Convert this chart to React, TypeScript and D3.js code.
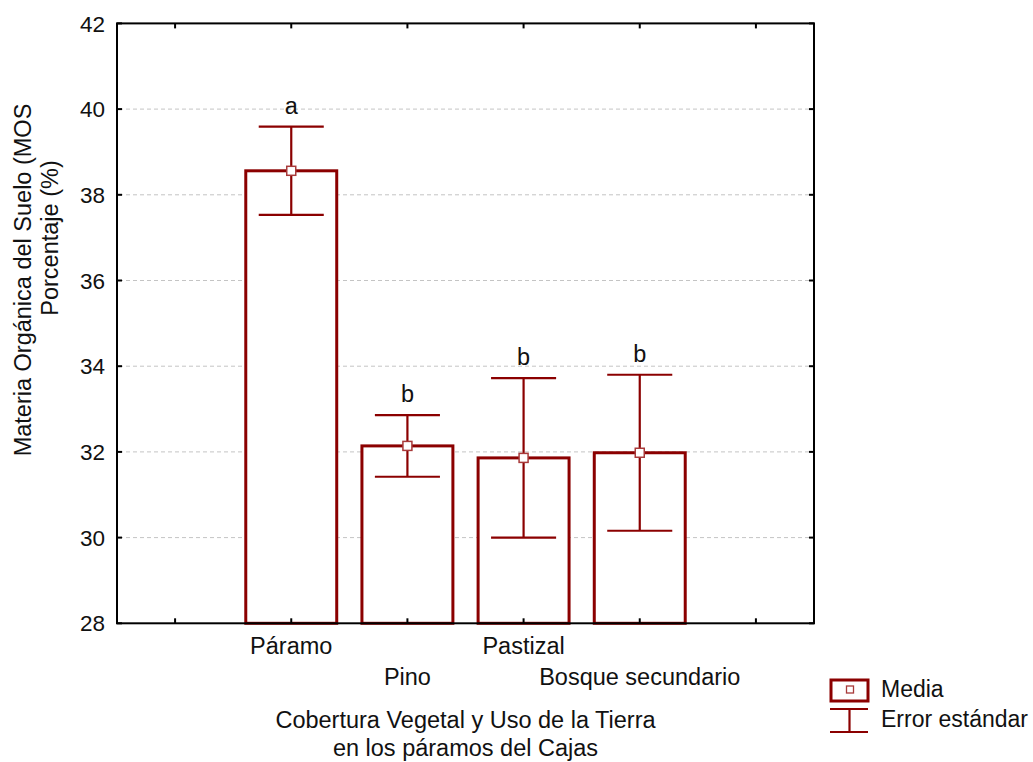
import React from "react";
import * as d3 from "d3";

const categories = ["Páramo", "Pino", "Pastizal", "Bosque secundario"];
const means = [38.56, 32.14, 31.86, 31.98];
const stdErrors = [1.03, 0.72, 1.86, 1.82];
const groupLetters = ["a", "b", "b", "b"];
const yTicks = [28, 30, 32, 34, 36, 38, 40, 42];
const gridValues = [30, 32, 34, 36, 38, 40];
const slots = ["_start", ...categories, "_end"];

const W = 1033;
const H = 762;
const left = 117;
const right = 814;
const top = 23.4;
const bottom = 623.3;
const RED = "#8B0000";
const FONT = "'Liberation Sans', Arial, sans-serif";
const FS = 23.5;

export default function App() {
  const x = d3.scalePoint<string>().domain(slots).range([left, right]).padding(0.5);
  const y = d3.scaleLinear().domain([28, 42]).range([bottom, top]);
  const step = x.step();
  const barW = step * 0.783;
  const capW = step * 0.56;

  return (
    <svg width={W} height={H} style={{ position: "absolute", left: 0, top: 0 }} fontFamily={FONT}>
      <rect x={0} y={0} width={W} height={H} fill="#fff" />
      {gridValues.map((v) => (
        <line key={"g" + v} x1={left + 2} x2={right - 2} y1={y(v)} y2={y(v)} stroke="#c4c4c4" strokeWidth={1} strokeDasharray="4,3" />
      ))}
      {categories.map((c, i) => {
        const cx = x(c)!;
        return (
          <rect key={"b" + c} x={cx - barW / 2} y={y(means[i])} width={barW} height={bottom - y(means[i])} fill="#fff" stroke={RED} strokeWidth={3} />
        );
      })}
      {categories.map((c, i) => {
        const cx = x(c)!;
        const hi = y(means[i] + stdErrors[i]);
        const lo = y(means[i] - stdErrors[i]);
        return (
          <g key={"e" + c} stroke={RED} strokeWidth={2.2}>
            <line x1={cx} x2={cx} y1={hi} y2={lo} />
            <line x1={cx - capW / 2} x2={cx + capW / 2} y1={hi} y2={hi} />
            <line x1={cx - capW / 2} x2={cx + capW / 2} y1={lo} y2={lo} />
          </g>
        );
      })}
      {categories.map((c, i) => {
        const cx = x(c)!;
        const cy = y(means[i]);
        return <rect key={"m" + c} x={cx - 4.5} y={cy - 4.5} width={9} height={9} fill="#fff" stroke="#a83a3a" strokeWidth={1.5} />;
      })}
      {categories.map((c, i) => (
        <text key={"l" + c} x={x(c)!} y={y(means[i] + stdErrors[i]) - 13} textAnchor="middle" fontSize={FS} fill="#111">
          {groupLetters[i]}
        </text>
      ))}
      <rect x={left} y={top} width={right - left} height={bottom - top} fill="none" stroke="#000" strokeWidth={2} />
      {yTicks.map((v) => (
        <g key={"t" + v}>
          <line x1={left} x2={left + 5} y1={y(v)} y2={y(v)} stroke="#000" strokeWidth={2} />
          <line x1={right - 5} x2={right} y1={y(v)} y2={y(v)} stroke="#000" strokeWidth={2} />
          <text x={105} y={y(v)} dy="0.36em" textAnchor="end" fontSize={22.5} fill="#111">
            {v}
          </text>
        </g>
      ))}
      {slots.map((s) => (
        <g key={"xt" + s}>
          <line x1={x(s)!} x2={x(s)!} y1={bottom} y2={bottom - 5} stroke="#000" strokeWidth={2} />
          <line x1={x(s)!} x2={x(s)!} y1={top} y2={top + 5} stroke="#000" strokeWidth={2} />
        </g>
      ))}
      {categories.map((c, i) => (
        <text key={"xl" + c} x={x(c)!} y={i % 2 === 0 ? 654 : 685} textAnchor="middle" fontSize={FS} fill="#111">
          {c}
        </text>
      ))}
      <text x={(left + right) / 2} y={728} textAnchor="middle" fontSize={FS} fill="#111">
        Cobertura Vegetal y Uso de la Tierra
      </text>
      <text x={(left + right) / 2} y={756} textAnchor="middle" fontSize={FS} fill="#111">
        en los páramos del Cajas
      </text>
      <text transform="translate(31,280) rotate(-90)" textAnchor="middle" fontSize={FS} fill="#111">
        Materia Orgánica del Suelo (MOS
      </text>
      <text transform="translate(58,238) rotate(-90)" textAnchor="middle" fontSize={FS} fill="#111">
        Porcentaje (%)
      </text>
      <rect x={831} y={680} width={37} height={21} fill="#fff" stroke={RED} strokeWidth={3} />
      <rect x={846.5} y={686} width={7} height={7} fill="#fff" stroke="#a83a3a" strokeWidth={1.3} />
      <text x={881} y={697} fontSize={23} fill="#111">Media</text>
      <g stroke={RED} strokeWidth={2.2}>
        <line x1={830} x2={868} y1={709} y2={709} />
        <line x1={849.5} x2={849.5} y1={709} y2={732} />
        <line x1={830} x2={868} y1={732} y2={732} />
      </g>
      <text x={881} y={727} fontSize={23} fill="#111">Error estándar</text>
    </svg>
  );
}
